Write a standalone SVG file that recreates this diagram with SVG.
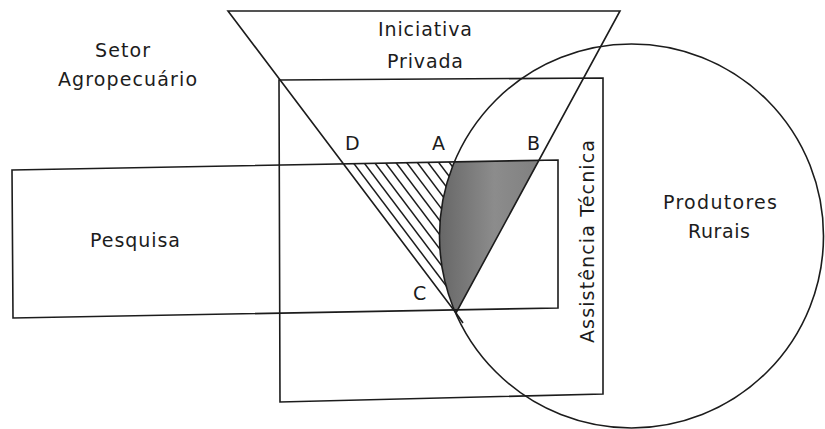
<svg xmlns="http://www.w3.org/2000/svg" width="825" height="429" viewBox="0 0 825 429">
<style>
.ln{fill:none;stroke:#1c1c1c;stroke-width:1.6;stroke-linejoin:miter}
.hl{stroke:#1c1c1c;stroke-width:1.5}
.tx{font-family:"DejaVu Sans","Liberation Sans",sans-serif;font-size:19px;fill:#1c1c1c}
.pt{font-family:"DejaVu Sans","Liberation Sans",sans-serif;font-size:19px;fill:#1c1c1c}
</style>
<defs>
<linearGradient id="gr" x1="0" y1="0" x2="1" y2="0">
<stop offset="0" stop-color="#676767"/>
<stop offset="0.55" stop-color="#8c8c8c"/>
<stop offset="1" stop-color="#808080"/>
</linearGradient>
<clipPath id="hclip">
<path d="M343.5,164 L454.3,162 A192,192 0 0 0 456,313 Z"/>
</clipPath>
</defs>
<rect width="825" height="429" fill="#ffffff"/>

<g id="interseccao-cinza">
<path d="M454.3,162 L539,160.5 L456,313 A192,192 0 0 1 454.3,162 Z" fill="url(#gr)"/>
</g>

<g id="interseccao-hachurada" clip-path="url(#hclip)">
<line class="hl" x1="351.2" y1="160" x2="472" y2="320"/>
<line class="hl" x1="361.9" y1="160" x2="482.7" y2="320"/>
<line class="hl" x1="372.6" y1="160" x2="493.4" y2="320"/>
<line class="hl" x1="383.3" y1="160" x2="504.1" y2="320"/>
<line class="hl" x1="394" y1="160" x2="514.8" y2="320"/>
<line class="hl" x1="404.7" y1="160" x2="525.5" y2="320"/>
<line class="hl" x1="415.4" y1="160" x2="536.2" y2="320"/>
<line class="hl" x1="426.1" y1="160" x2="546.9" y2="320"/>
<line class="hl" x1="436.8" y1="160" x2="557.6" y2="320"/>
<line class="hl" x1="447.5" y1="160" x2="568.3" y2="320"/>
</g>

<g id="setor-agropecuario">
<polygon class="ln" points="279,80 603,78 603,394 280,402"/>
<text class="tx" x="95" y="57" textLength="55">Setor</text>
<text class="tx" x="58" y="86" textLength="139">Agropecuário</text>
</g>

<g id="pesquisa">
<polygon class="ln" points="12,170 558,160 558,308 13,318"/>
<text class="tx" x="90" y="247" textLength="90">Pesquisa</text>
</g>

<g id="iniciativa-privada">
<polygon class="ln" points="228,11 620,11 456,313"/>
<line class="ln" x1="456" y1="313" x2="463" y2="323"/>
<text class="tx" x="378" y="36" textLength="94">Iniciativa</text>
<text class="tx" x="387" y="68" textLength="76">Privada</text>
</g>

<g id="produtores-rurais">
<circle class="ln" cx="631.5" cy="236" r="192"/>
<text class="tx" x="663" y="209" textLength="114">Produtores</text>
<text class="tx" x="688" y="238" textLength="62">Rurais</text>
</g>

<g id="assistencia-tecnica">
<text class="tx" transform="translate(594,343) rotate(-90)" textLength="203">Assistência Técnica</text>
</g>

<g id="pontos">
<text class="pt" x="345" y="150">D</text>
<text class="pt" x="432" y="150">A</text>
<text class="pt" x="527" y="150">B</text>
<text class="pt" x="413" y="300">C</text>
</g>
</svg>
